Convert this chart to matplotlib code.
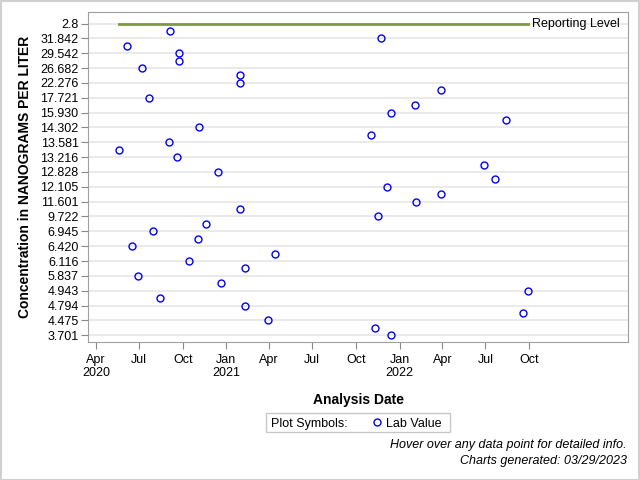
import matplotlib
matplotlib.use("Agg")
import matplotlib.pyplot as plt
import matplotlib.dates as mdates
from matplotlib.patches import Rectangle
from matplotlib.lines import Line2D
import pandas as pd

plt.rcParams['font.family'] = ['Liberation Sans', 'DejaVu Sans']

# y axis is ordered by rank; the labels are the concentrations at whole ranks
tick_labels = ["2.8", "31.842", "29.542", "26.682", "22.276", "17.721", "15.930",
               "14.302", "13.581", "13.216", "12.828", "12.105", "11.601", "9.722",
               "6.945", "6.420", "6.116", "5.837", "4.943", "4.794", "4.475", "3.701"]
reporting_level = "2.8"

# lab values: analysis date and rank position on the y axis
dates = ["2020-06-06", "2020-09-04", "2020-09-24", "2020-09-24", "2020-07-08",
         "2021-01-30", "2021-01-30", "2020-07-21", "2020-11-05", "2020-09-03",
         "2020-05-20", "2020-09-18", "2020-12-15", "2021-01-30", "2020-11-18",
         "2020-07-31", "2020-11-03", "2020-06-17", "2021-04-14", "2020-10-15",
         "2021-02-10", "2020-06-29", "2020-12-21", "2020-08-15", "2021-02-10",
         "2021-03-30", "2021-11-22", "2022-03-30", "2022-02-03", "2021-12-14",
         "2022-08-14", "2021-11-02", "2022-06-28", "2022-07-22", "2021-12-06",
         "2022-03-30", "2022-02-05", "2021-11-17", "2022-09-28", "2022-09-19",
         "2021-11-11", "2021-12-14"]
rank = [1.5, 0.5, 2.0, 2.5, 3.0, 3.5, 4.0, 5.0, 7.0, 8.0,
        8.5, 9.0, 10.0, 12.5, 13.5, 14.0, 14.5, 15.0, 15.5, 16.0,
        16.5, 17.0, 17.5, 18.5, 19.0, 20.0, 1.0, 4.5, 5.5, 6.0,
        6.5, 7.5, 9.5, 10.5, 11.0, 11.5, 12.0, 13.0, 18.0, 19.5,
        20.5, 21.0]

x_ticks = ["2020-04-01", "2020-07-01", "2020-10-01", "2021-01-01", "2021-04-01",
           "2021-07-01", "2021-10-01", "2022-01-01", "2022-04-01", "2022-07-01",
           "2022-10-01"]
x_tick_labels = ["Apr\n2020", "Jul", "Oct", "Jan\n2021", "Apr", "Jul", "Oct",
                 "Jan\n2022", "Apr", "Jul", "Oct"]

dates = pd.to_datetime(dates)

fig = plt.figure(figsize=(6.4, 4.8), dpi=100)
ax = fig.add_axes([0.138, 0.288, 0.843, 0.688])

for i in range(len(tick_labels)):
    ax.axhline(i, color="#e8e8e8", lw=1.3, zorder=0)

# reporting level line spans the sampled period
ax.plot([dates.min(), dates.max()], [0, 0], color="#7e9b3c", lw=2, zorder=2)
ax.text(dates.max() + pd.Timedelta(days=10), 0, "Reporting Level",
        va="center", ha="left", fontsize=9)

ax.plot(dates, rank, linestyle="none", marker="o", markersize=5,
        markerfacecolor="none", markeredgecolor="blue", markeredgewidth=1, zorder=3)

ax.set_ylim(21.44, -0.81)
ax.set_yticks(range(len(tick_labels)))
ax.set_yticklabels(tick_labels, fontsize=9)
ax.set_xlim(pd.Timestamp("2020-03-16"), pd.Timestamp("2023-04-27"))
ax.set_xticks(pd.to_datetime(x_ticks))
ax.set_xticklabels(x_tick_labels, fontsize=9)
ax.tick_params(colors="#888888", labelcolor="black", length=5, width=0.8)
ax.tick_params(axis="y", pad=2)

for s in ax.spines.values():
    s.set_color("#a0a0a0")

ax.set_ylabel("Concentration in NANOGRAMS PER LITER", fontsize=10, fontweight="bold",
              labelpad=6)
ax.set_xlabel("Analysis Date", fontsize=10, fontweight="bold", labelpad=10)

# legend box
fig.patches.append(Rectangle((266 / 640, 1 - 432 / 480), 184 / 640, 19 / 480,
                             transform=fig.transFigure, fill=False,
                             edgecolor="#c8c8c8", lw=1))
fig.text(271 / 640, 1 - 422.5 / 480, "Plot Symbols:", fontsize=9, va="center_baseline")
fig.lines.append(Line2D([377 / 640], [1 - 422 / 480], transform=fig.transFigure,
                        marker="o", markersize=5, markerfacecolor="none",
                        markeredgecolor="blue", markeredgewidth=1))
fig.text(386 / 640, 1 - 422.5 / 480, "Lab Value", fontsize=9, va="center_baseline")

fig.text(627 / 640, 1 - 445 / 480, "Hover over any data point for detailed info.",
         fontsize=9, style="italic", ha="right", va="center")
fig.text(627 / 640, 1 - 461 / 480, "Charts generated: 03/29/2023",
         fontsize=9, style="italic", ha="right", va="center")

fig.patches.append(Rectangle((0.001, 0.001), 0.997, 0.997, transform=fig.transFigure,
                             fill=False, edgecolor="#d0d0d0", lw=1.5))

fig.savefig("out.png", dpi=100)
